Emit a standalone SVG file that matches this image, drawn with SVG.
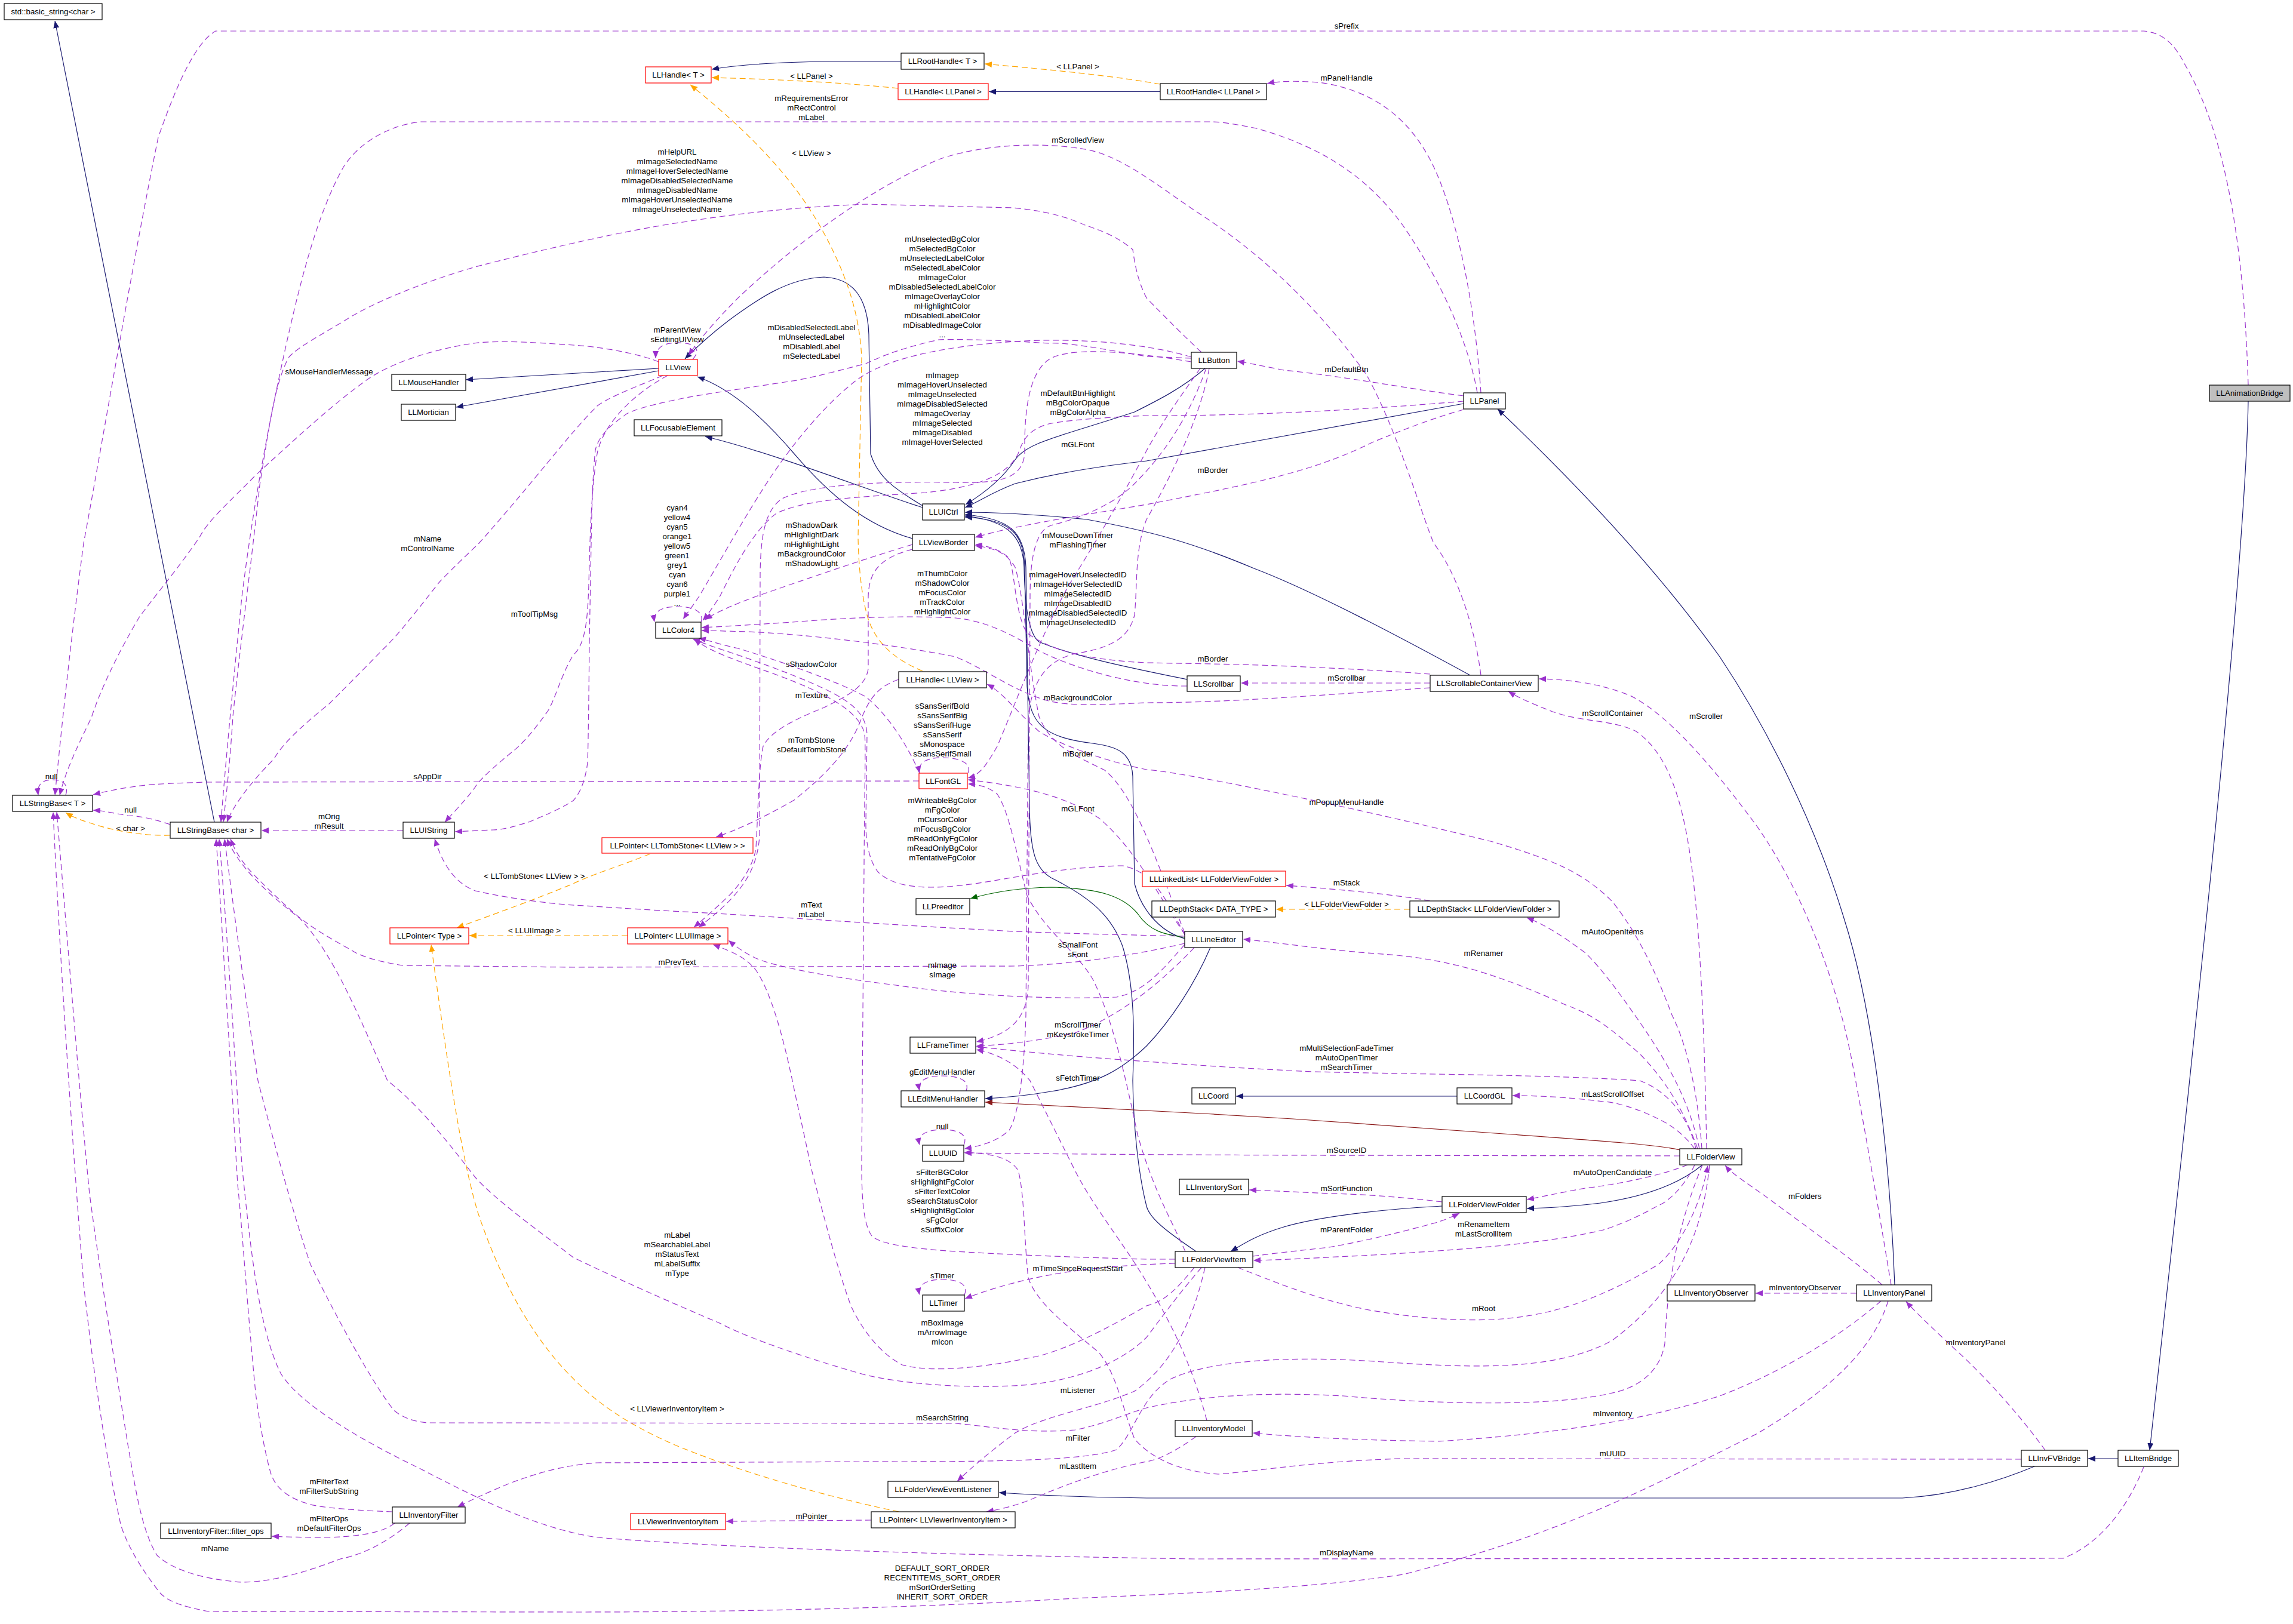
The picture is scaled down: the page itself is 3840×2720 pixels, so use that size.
<svg xmlns="http://www.w3.org/2000/svg" width="3840" height="2720" viewBox="0 0 3840 2720">
<style>
.t{font-family:"Liberation Sans",Arial,sans-serif;font-size:13.3px;text-anchor:middle;fill:#000}
.n rect{fill:#fff;stroke:#000;stroke-width:1.2}
.n.r rect{stroke:#ff0000}
.n.gr rect{fill:#bfbfbf}
.i{fill:none;stroke:#191970;stroke-width:1.2;marker-end:url(#ai)}
.g{fill:none;stroke:#006400;stroke-width:1.2;marker-end:url(#ag)}
.f{fill:none;stroke:#8b1a1a;stroke-width:1.2;marker-end:url(#af)}
.p{fill:none;stroke:#9a32cd;stroke-width:1.2;stroke-dasharray:10,6;marker-end:url(#ap)}
.o{fill:none;stroke:#ffa500;stroke-width:1.2;stroke-dasharray:10,6;marker-end:url(#ao)}
</style>
<defs>
<marker id="ai" markerUnits="userSpaceOnUse" markerWidth="12" markerHeight="10" viewBox="0 0 12 10" refX="12" refY="5" orient="auto"><path d="M0,0L12,5L0,10z" fill="#191970"/></marker>
<marker id="ag" markerUnits="userSpaceOnUse" markerWidth="12" markerHeight="10" viewBox="0 0 12 10" refX="12" refY="5" orient="auto"><path d="M0,0L12,5L0,10z" fill="#006400"/></marker>
<marker id="af" markerUnits="userSpaceOnUse" markerWidth="12" markerHeight="10" viewBox="0 0 12 10" refX="12" refY="5" orient="auto"><path d="M0,0L12,5L0,10z" fill="#8b1a1a"/></marker>
<marker id="ap" markerUnits="userSpaceOnUse" markerWidth="12" markerHeight="10" viewBox="0 0 12 10" refX="12" refY="5" orient="auto"><path d="M0,0L12,5L0,10z" fill="#9a32cd"/></marker>
<marker id="ao" markerUnits="userSpaceOnUse" markerWidth="12" markerHeight="10" viewBox="0 0 12 10" refX="12" refY="5" orient="auto"><path d="M0,0L12,5L0,10z" fill="#ffa500"/></marker>
</defs>
<rect x="0" y="0" width="3840" height="2720" fill="#fff"/>
<g id="connectors">
<path class="i" d="M359,1377 L92,35"/>
<path class="i" d="M1103,617 L780,636"/>
<path class="i" d="M1103,621 L764,682"/>
<path class="i" d="M1545,847 C1500,820 1470,800 1458,760 L1455,560 C1453,500 1430,466 1380,464 C1320,466 1270,500 1220,537 C1190,560 1165,583 1147,601"/>
<path class="i" d="M1545,850 C1450,820 1300,760 1181,731"/>
<path class="i" d="M1528,902 C1450,880 1390,830 1330,760 C1270,690 1220,650 1168,631"/>
<path class="i" d="M2018,617 C1980,650 1940,670 1900,690 C1780,730 1720,740 1700,770 C1680,800 1650,825 1617,845"/>
<path class="i" d="M2451,676 L1920,772 C1850,780 1780,790 1700,810 C1660,825 1640,840 1616,850"/>
<path class="i" d="M2462,1131 C2350,1070 2200,990 2100,952 C2000,910 1930,890 1820,870 C1720,860 1660,858 1616,858"/>
<path class="i" d="M1988,1138 C1900,1120 1800,1100 1740,1075 C1720,1060 1716,1000 1715,950 C1713,900 1690,872 1616,864"/>
<path class="i" d="M1984,1572 C1940,1560 1910,1520 1900,1480 L1897,1300 C1895,1260 1870,1250 1830,1245 C1750,1235 1725,1215 1720,1150 L1716,950 C1714,890 1690,870 1616,866"/>
<path class="i" d="M2003,2096 C1950,2060 1925,2040 1920,2020 C1905,1960 1898,1880 1897,1810 C1900,1730 1900,1650 1880,1585 C1860,1530 1820,1500 1760,1470 C1735,1455 1725,1430 1724,1350 L1718,950 C1716,890 1690,868 1616,862"/>
<path class="i" d="M2027,1587 C2000,1650 1960,1710 1920,1752 C1880,1790 1840,1815 1760,1828 C1720,1835 1690,1838 1650,1840"/>
<path class="g" d="M1984,1570 C1950,1565 1925,1560 1905,1530 C1880,1500 1840,1488 1760,1486 C1700,1487 1660,1495 1625,1505"/>
<path class="f" d="M2813,1926 C2780,1918 2700,1912 2532,1900 L2165,1874 C2000,1864 1900,1858 1650,1846"/>
<path class="i" d="M2851,1951 C2810,1985 2750,2005 2680,2015 C2620,2022 2590,2023 2557,2024"/>
<path class="i" d="M2415,2020 C2300,2026 2200,2040 2150,2055 C2100,2070 2080,2085 2061,2096"/>
<path class="i" d="M3173,2152 C3165,1950 3140,1700 3088,1538 C3040,1380 2960,1220 2880,1100 C2780,960 2650,820 2508,685"/>
<path class="i" d="M2440,1836 L2070,1836"/>
<path class="i" d="M3407,2456 C3350,2480 3270,2505 3186,2509 L1920,2509 C1800,2508 1720,2503 1673,2500"/>
<path class="i" d="M3547,2443 L3497,2443"/>
<path class="i" d="M3765,672 C3760,950 3680,1700 3600,2429"/>
<path class="i" d="M1509,103 L1390,103 C1300,104 1240,108 1192,116"/>
<path class="i" d="M1943,153.5 L1656,153.5"/>
<path class="o" d="M1943,141 C1880,130 1800,120 1649,107"/>
<path class="o" d="M1504,148 C1450,142 1350,134 1192,130"/>
<path class="o" d="M1545,1124 C1500,1105 1470,1080 1455,1040 C1445,1010 1438,960 1437,900 L1443,600 C1440,530 1420,470 1390,410 C1350,330 1290,250 1156,142"/>
<path class="o" d="M285,1399 C240,1400 190,1392 150,1378 C130,1372 118,1366 110,1361"/>
<path class="o" d="M1089,1430 C1040,1450 990,1465 960,1480 C900,1505 830,1530 765,1554"/>
<path class="o" d="M1051,1567 L786,1567"/>
<path class="o" d="M1505,2532 C1400,2510 1250,2470 1130,2420 C1050,2385 1000,2350 960,2309 C880,2230 830,2120 800,2030 C770,1930 745,1750 722,1582"/>
<path class="o" d="M2361,1523 L2137,1523"/>
<path class="p" d="M3765,645 C3758,420 3730,230 3660,110 C3640,70 3620,55 3590,52 L361,52 C330,70 300,130 265,230 C220,450 170,750 140,910 C115,1100 100,1250 92,1332"/>
<path class="p" d="M3590,2457 C3565,2520 3520,2585 3455,2610 L2000,2611 C1600,2605 1200,2592 1000,2575 C900,2560 800,2510 704,2460 C600,2410 500,2350 470,2300 C435,2230 420,2100 405,1950 C395,1800 380,1550 367,1405"/>
<path class="p" d="M3385,2444 L2350,2443 C2200,2447 2100,2465 2040,2469 C1980,2465 1930,2445 1900,2410 C1880,2360 1870,2300 1840,2265 C1780,2215 1735,2180 1722,2140 C1715,2080 1716,2000 1705,1960 C1690,1938 1660,1932 1615,1930"/>
<path class="p" d="M3425,2429 C3390,2380 3330,2310 3272,2258 C3240,2228 3210,2200 3192,2180"/>
<path class="p" d="M3152,2152 C3110,2115 3030,2058 2953,2001 C2920,1978 2900,1965 2889,1952"/>
<path class="p" d="M3109,2166 L2940,2166"/>
<path class="p" d="M3150,2179 C3080,2240 2980,2300 2880,2338 C2750,2380 2600,2402 2410,2414 C2250,2412 2150,2405 2098,2400"/>
<path class="p" d="M3162,2179 C3140,2250 3080,2320 2941,2402 C2800,2470 2650,2560 2350,2637 C2200,2660 2000,2668 1800,2677 C1500,2695 1200,2700 960,2700 L349,2699 C300,2690 280,2680 269,2669 C230,2620 210,2580 202,2553 C180,2450 160,2330 140,2150 C120,1900 100,1600 89,1360"/>
<path class="p" d="M3167,2152 C3150,2050 3125,1900 3100,1770 C3070,1620 3010,1480 2941,1382 C2880,1300 2800,1200 2730,1165 C2680,1145 2630,1138 2577,1137"/>
<path class="p" d="M686,2551 C640,2590 600,2605 570,2611 C520,2630 460,2650 404,2650 C340,2645 290,2630 263,2605 C235,2560 225,2480 214,2419 C195,2300 170,2150 150,2000 C135,1850 115,1600 95,1360"/>
<path class="p" d="M657,2532 C600,2530 530,2525 514,2518 C480,2508 460,2490 453,2466 C440,2420 430,2350 428,2332 C415,2200 405,2050 398,1984 C390,1850 375,1600 362,1405"/>
<path class="p" d="M661,2551 C640,2568 600,2573 551,2575 C500,2575 475,2574 455,2573"/>
<path class="p" d="M2863,1951 C2850,2080 2800,2170 2700,2245 C2600,2300 2450,2290 2300,2280 C2150,2270 2020,2280 1960,2310 C1910,2340 1900,2400 1870,2428 C1820,2445 1700,2448 1500,2448 L1000,2450 C930,2455 880,2475 857,2483 C820,2498 790,2512 766,2524"/>
<path class="p" d="M2851,1951 C2810,2050 2792,2150 2788,2250 C2780,2300 2740,2325 2700,2333 C2600,2357 2400,2352 2250,2338 C2100,2330 2000,2340 1920,2358 C1880,2370 1850,2385 1800,2395 C1720,2402 1650,2388 1600,2384 L716,2383 C680,2380 660,2365 655,2356 C620,2310 560,2200 520,2118 C490,2030 455,1900 432,1810 C415,1700 395,1550 376,1405"/>
<path class="p" d="M2018,2123 C2000,2200 1970,2280 1900,2330 C1830,2360 1750,2370 1700,2400 C1660,2430 1630,2455 1603,2481"/>
<path class="p" d="M2003,2406 C1970,2430 1940,2445 1920,2448 C1860,2460 1800,2480 1725,2512 C1700,2522 1675,2528 1652,2532"/>
<path class="p" d="M1459,2546 L1216,2548"/>
<path class="p" d="M2826,1951 C2780,1970 2700,1985 2655,1990 C2610,1998 2580,2005 2557,2009"/>
<path class="p" d="M2838,1951 C2820,1990 2790,2015 2777,2019 C2740,2040 2710,2052 2685,2060 C2600,2080 2500,2090 2300,2102 C2200,2107 2150,2110 2099,2111"/>
<path class="p" d="M2073,2123 C2130,2145 2200,2175 2287,2193 C2380,2210 2450,2212 2500,2210 C2600,2205 2680,2175 2777,2118 C2820,2080 2850,2010 2860,1952"/>
<path class="p" d="M2098,2104 C2150,2097 2200,2092 2226,2089 C2290,2078 2360,2060 2404,2048 C2420,2043 2432,2038 2444,2032"/>
<path class="p" d="M2415,2013 C2350,2005 2280,2000 2226,1999 C2160,1996 2120,1994 2092,1993"/>
<path class="p" d="M2813,1936 L2200,1935 C1900,1934 1700,1932 1615,1931"/>
<path class="p" d="M2838,1924 C2820,1900 2800,1885 2777,1874 C2740,1855 2700,1845 2685,1845 C2620,1837 2570,1835 2533,1835"/>
<path class="p" d="M2840,1924 C2830,1880 2800,1830 2746,1810 C2600,1800 2400,1800 2200,1795 C2050,1788 1950,1780 1880,1775 C1780,1768 1700,1760 1635,1753"/>
<path class="p" d="M2846,1924 C2830,1850 2800,1790 2746,1712 C2710,1660 2680,1620 2655,1596 C2620,1570 2590,1550 2557,1537"/>
<path class="p" d="M2843,1924 C2820,1860 2790,1810 2746,1765 C2700,1725 2670,1700 2624,1684 C2560,1655 2520,1640 2471,1625 C2400,1605 2350,1600 2288,1596 C2200,1588 2150,1580 2082,1573"/>
<path class="p" d="M2858,1924 C2855,1750 2848,1550 2830,1430 C2815,1330 2790,1260 2740,1225 C2700,1205 2650,1210 2600,1192 C2570,1180 2545,1170 2526,1158"/>
<path class="p" d="M2850,1924 C2845,1850 2830,1760 2800,1700 C2770,1620 2740,1560 2700,1510 C2650,1460 2600,1440 2500,1410 C2400,1385 2250,1350 2100,1320 C2000,1300 1940,1290 1920,1289 C1850,1275 1770,1245 1740,1225 C1700,1190 1680,1160 1653,1146"/>
<path class="p" d="M2395,1509 C2350,1500 2250,1490 2154,1483"/>
<path class="p" d="M2012,2123 C1980,2160 1950,2200 1920,2240 C1870,2290 1780,2318 1695,2321 C1600,2326 1500,2315 1450,2303 C1350,2275 1250,2240 1205,2216 C1120,2180 1030,2140 960,2106 C900,2060 830,2010 796,1972 C740,1900 700,1850 649,1810 C600,1700 560,1600 502,1538 C440,1490 400,1450 380,1405"/>
<path class="p" d="M1968,2109 L1920,2109 C1800,2106 1650,2100 1572,2094 C1500,2088 1470,2080 1460,2070 C1445,2050 1443,2000 1443,1950 L1447,1450 C1448,1300 1450,1250 1448,1230 C1440,1190 1380,1160 1300,1130 C1230,1105 1185,1090 1163,1070"/>
<path class="p" d="M1968,2116 C1900,2118 1850,2122 1805,2128 C1750,2135 1680,2150 1616,2175"/>
<path class="p" d="M2000,2123 C1970,2160 1950,2180 1920,2187 C1860,2222 1780,2265 1725,2274 C1650,2290 1560,2300 1511,2286 C1470,2265 1440,2220 1425,2187 C1400,2120 1370,2000 1358,1955 C1345,1890 1335,1850 1327,1810 C1310,1730 1290,1660 1266,1625 C1250,1605 1230,1595 1194,1582"/>
<path class="p" d="M1985,2096 C1960,2040 1930,1990 1905,1900 C1880,1780 1860,1700 1830,1640 C1800,1590 1750,1560 1720,1500 C1700,1420 1690,1360 1670,1330 C1655,1318 1640,1314 1621,1313"/>
<path class="p" d="M2021,2379 C2000,2300 1970,2230 1920,2147 C1880,2080 1830,2020 1800,1960 C1760,1880 1740,1840 1725,1810 C1700,1780 1670,1765 1635,1758"/>
<path class="p" d="M2000,1587 C1950,1640 1880,1700 1800,1730 C1730,1745 1680,1750 1635,1752"/>
<path class="p" d="M1984,1582 C1950,1620 1920,1660 1870,1670 C1750,1675 1600,1665 1500,1650 C1400,1638 1300,1620 1266,1605 C1245,1595 1232,1585 1220,1575"/>
<path class="p" d="M1984,1580 C1900,1600 1800,1615 1700,1618 L960,1620 L674,1617 C630,1610 600,1600 588,1591 C540,1565 510,1545 490,1527 C460,1500 440,1480 429,1469 C410,1450 395,1430 386,1405"/>
<path class="p" d="M1984,1568 C1900,1566 1800,1564 1700,1560 C1500,1550 1300,1535 1144,1527 C1050,1522 1000,1518 960,1516 C900,1512 830,1500 796,1492 C770,1482 745,1460 728,1405"/>
<path class="p" d="M1984,1566 C1950,1500 1930,1460 1880,1450 C1780,1452 1700,1470 1633,1480 C1560,1490 1500,1490 1470,1460 C1455,1440 1450,1410 1450,1380 L1452,1230 C1450,1190 1420,1170 1350,1140 C1290,1115 1230,1095 1200,1085 C1185,1080 1172,1075 1160,1070"/>
<path class="p" d="M1984,1565 C1940,1500 1900,1420 1840,1370 C1780,1330 1700,1315 1621,1306"/>
<path class="p" d="M1984,1563 C1940,1450 1900,1330 1850,1290 C1800,1265 1760,1250 1740,1200 C1720,1100 1715,1000 1700,950 C1685,925 1665,918 1633,914"/>
<path class="p" d="M2395,1129 C2300,1122 2150,1114 2030,1112 L1920,1110 C1820,1105 1760,1090 1720,1060 C1700,1030 1700,960 1690,935 C1675,920 1655,915 1633,912"/>
<path class="p" d="M2395,1144 L2078,1144"/>
<path class="p" d="M2395,1152 C2200,1165 2050,1177 1920,1177 C1850,1180 1800,1183 1760,1175 C1700,1160 1650,1120 1600,1100 C1500,1080 1350,1062 1250,1058 C1210,1057 1190,1056 1175,1056"/>
<path class="p" d="M2480,1131 C2470,1050 2440,960 2401,910 C2380,860 2340,720 2288,627 C2240,560 2150,450 2012,360 C1950,320 1880,260 1817,250 C1750,238 1650,240 1572,267 C1450,320 1330,410 1236,499 C1200,535 1170,570 1153,595"/>
<path class="p" d="M1988,1149 C1900,1150 1800,1120 1740,1090 C1690,1060 1650,1040 1600,1035 C1500,1030 1400,1036 1327,1042 C1250,1047 1200,1050 1175,1051"/>
<path class="p" d="M2451,686 C2400,700 2350,720 2300,740 C2200,790 2100,810 1920,845 C1800,865 1700,880 1633,900"/>
<path class="p" d="M2451,663 C2350,650 2250,630 2150,620 C2110,612 2090,608 2072,605"/>
<path class="p" d="M2480,658 C2472,540 2450,400 2410,300 C2370,200 2300,150 2208,138 C2170,135 2140,136 2122,140"/>
<path class="p" d="M2474,658 C2460,580 2420,480 2349,377 C2300,310 2230,250 2104,215 C2060,206 2040,204 2030,204 L704,204 C650,210 600,240 575,280 C530,360 500,480 470,620 C440,760 420,880 405,1000 C395,1100 380,1250 370,1377"/>
<path class="p" d="M2451,672 C2300,685 2100,697 1920,696 C1830,700 1780,705 1756,710 C1720,720 1712,740 1705,760 C1690,790 1650,815 1550,825 C1450,832 1350,835 1300,860 C1260,890 1230,950 1205,1000 C1195,1015 1185,1030 1177,1039"/>
<path class="p" d="M2012,590 C1980,560 1950,530 1920,499 C1905,470 1900,440 1897,418 C1870,395 1840,385 1817,377 C1780,360 1740,352 1695,348 L1450,342 C1350,346 1250,355 1144,372 C1050,385 900,420 796,447 C700,475 620,510 582,534 C540,560 500,580 484,598 C460,640 450,720 435,812 C420,950 400,1100 390,1200 C385,1280 378,1340 374,1377"/>
<path class="p" d="M1995,598 C1920,575 1800,565 1700,572 C1580,580 1480,600 1430,640 C1380,680 1330,740 1290,800 C1250,860 1200,950 1170,1000 C1160,1015 1150,1028 1144,1037"/>
<path class="p" d="M1995,600 L1920,597 C1850,585 1780,572 1756,575 C1650,568 1580,568 1572,569 C1500,585 1470,600 1450,609 C1400,622 1350,635 1327,638 C1250,650 1180,660 1144,667 C1080,680 1050,690 1046,696 C1010,720 1000,740 997,754 C992,800 991,860 990,910 L987,1074 C986,1180 985,1250 984,1277 C980,1310 970,1330 960,1341 C930,1360 900,1370 888,1376 C860,1385 840,1390 826,1390 L762,1393"/>
<path class="p" d="M1995,606 C1900,590 1800,580 1760,600 C1725,620 1715,680 1716,760 C1712,800 1680,810 1600,808 C1450,805 1350,815 1310,835 C1280,855 1274,900 1273,960 L1272,1400 C1268,1460 1240,1500 1170,1553"/>
<path class="p" d="M2010,617 C1980,660 1950,700 1920,755 C1880,830 1840,900 1790,980 C1740,1070 1700,1180 1670,1250 C1650,1285 1640,1298 1621,1303"/>
<path class="p" d="M2020,617 C1990,700 1950,760 1900,810 C1860,850 1800,870 1760,880 C1730,890 1725,950 1725,1000 L1722,1650 C1720,1700 1700,1730 1635,1745"/>
<path class="p" d="M2025,617 C2010,700 1960,800 1920,870 C1900,920 1905,980 1900,1030 C1890,1070 1860,1085 1800,1095 C1760,1105 1730,1130 1722,1200 L1718,1700 C1715,1800 1705,1870 1690,1893 C1670,1912 1640,1920 1615,1924"/>
<path class="p" d="M1528,912 C1450,935 1350,970 1266,999 C1220,1016 1195,1028 1181,1038"/>
<path class="p" d="M1540,1295 C1520,1250 1490,1200 1450,1167 C1400,1140 1300,1105 1236,1086 C1200,1078 1185,1072 1170,1069"/>
<path class="p" d="M1528,920 C1470,935 1455,960 1454,1000 L1454,1120 C1450,1150 1420,1165 1380,1185 C1330,1205 1290,1225 1278,1250 C1271,1280 1270,1350 1266,1420 C1262,1450 1240,1480 1223,1498 C1200,1520 1180,1538 1162,1553"/>
<path class="p" d="M1505,1138 C1470,1150 1455,1170 1440,1210 C1420,1260 1380,1300 1330,1340 C1260,1380 1220,1395 1199,1402"/>
<path class="p" d="M1160,602 C1175,585 1165,574 1135,574 C1108,574 1098,584 1098,600"/>
<path class="p" d="M1103,606 C1070,592 1000,580 960,578 C900,574 850,570 800,574 C720,585 650,610 612,638 C560,675 500,730 429,795 C380,845 350,870 334,900 C300,950 250,1010 233,1034 C200,1090 170,1150 153,1202 C130,1250 110,1290 100,1332"/>
<path class="p" d="M1110,629 C1060,650 1020,665 1000,680 C950,730 900,800 802,910 C760,950 740,970 735,976 C700,1020 670,1060 643,1086 C600,1130 570,1160 551,1179 C500,1220 470,1250 459,1271 C420,1310 390,1350 380,1377"/>
<path class="p" d="M1118,629 C1060,660 1010,710 1000,760 C990,820 988,900 986,980 C984,1040 980,1080 960,1097 C940,1130 930,1170 918,1190 C890,1230 870,1250 857,1260 C820,1290 800,1310 796,1318 C780,1340 760,1360 745,1377"/>
<path class="p" d="M110,1332 C115,1316 108,1306 88,1306 C68,1306 62,1316 64,1332"/>
<path class="p" d="M285,1381 C260,1372 230,1366 214,1366 C190,1362 175,1358 156,1357"/>
<path class="p" d="M1539,1308 L343,1310 C290,1312 260,1313 245,1315 C200,1320 180,1325 156,1331"/>
<path class="p" d="M675,1391 L438,1391"/>
<path class="p" d="M1174,1042 C1180,1024 1160,1016 1135,1016 C1108,1016 1093,1024 1096,1042"/>
<path class="p" d="M1621,1295 C1628,1277 1605,1269 1578,1269 C1552,1269 1536,1277 1540,1295"/>
<path class="p" d="M1614,1918 C1622,1900 1605,1892 1578,1892 C1552,1892 1536,1900 1540,1918"/>
<path class="p" d="M1615,2169 C1623,2151 1605,2143 1578,2143 C1552,2143 1536,2151 1540,2169"/>
<path class="p" d="M1618,1827 C1625,1809 1605,1802 1578,1802 C1552,1802 1536,1809 1540,1827"/>
<g class="t">
<text x="2255" y="48">sPrefix</text>
<text x="1359" y="132">&lt; LLPanel &gt;</text>
<text x="1805" y="116">&lt; LLPanel &gt;</text>
<text x="2255" y="135">mPanelHandle</text>
<text x="1359" y="168.6"><tspan x="1359">mRequirementsError</tspan><tspan x="1359" dy="16">mRectControl</tspan><tspan x="1359" dy="16">mLabel</tspan></text>
<text x="1359" y="261">&lt; LLView &gt;</text>
<text x="1805" y="239">mScrolledView</text>
<text x="1134" y="258.6"><tspan x="1134">mHelpURL</tspan><tspan x="1134" dy="16">mImageSelectedName</tspan><tspan x="1134" dy="16">mImageHoverSelectedName</tspan><tspan x="1134" dy="16">mImageDisabledSelectedName</tspan><tspan x="1134" dy="16">mImageDisabledName</tspan><tspan x="1134" dy="16">mImageHoverUnselectedName</tspan><tspan x="1134" dy="16">mImageUnselectedName</tspan></text>
<text x="1578" y="405"><tspan x="1578">mUnselectedBgColor</tspan><tspan x="1578" dy="16">mSelectedBgColor</tspan><tspan x="1578" dy="16">mUnselectedLabelColor</tspan><tspan x="1578" dy="16">mSelectedLabelColor</tspan><tspan x="1578" dy="16">mImageColor</tspan><tspan x="1578" dy="16">mDisabledSelectedLabelColor</tspan><tspan x="1578" dy="16">mImageOverlayColor</tspan><tspan x="1578" dy="16">mHighlightColor</tspan><tspan x="1578" dy="16">mDisabledLabelColor</tspan><tspan x="1578" dy="16">mDisabledImageColor</tspan><tspan x="1578" dy="16">...</tspan></text>
<text x="1134" y="557"><tspan x="1134">mParentView</tspan><tspan x="1134" dy="16">sEditingUIView</tspan></text>
<text x="1359" y="553"><tspan x="1359">mDisabledSelectedLabel</tspan><tspan x="1359" dy="16">mUnselectedLabel</tspan><tspan x="1359" dy="16">mDisabledLabel</tspan><tspan x="1359" dy="16">mSelectedLabel</tspan></text>
<text x="551" y="627.3">sMouseHandlerMessage</text>
<text x="1578" y="633"><tspan x="1578">mImagep</tspan><tspan x="1578" dy="16">mImageHoverUnselected</tspan><tspan x="1578" dy="16">mImageUnselected</tspan><tspan x="1578" dy="16">mImageDisabledSelected</tspan><tspan x="1578" dy="16">mImageOverlay</tspan><tspan x="1578" dy="16">mImageSelected</tspan><tspan x="1578" dy="16">mImageDisabled</tspan><tspan x="1578" dy="16">mImageHoverSelected</tspan></text>
<text x="1805" y="663.3"><tspan x="1805">mDefaultBtnHighlight</tspan><tspan x="1805" dy="16">mBgColorOpaque</tspan><tspan x="1805" dy="16">mBgColorAlpha</tspan></text>
<text x="2255" y="622.6">mDefaultBtn</text>
<text x="1805" y="749.2">mGLFont</text>
<text x="2031" y="792">mBorder</text>
<text x="1134" y="855.4"><tspan x="1134">cyan4</tspan><tspan x="1134" dy="16">yellow4</tspan><tspan x="1134" dy="16">cyan5</tspan><tspan x="1134" dy="16">orange1</tspan><tspan x="1134" dy="16">yellow5</tspan><tspan x="1134" dy="16">green1</tspan><tspan x="1134" dy="16">grey1</tspan><tspan x="1134" dy="16">cyan</tspan><tspan x="1134" dy="16">cyan6</tspan><tspan x="1134" dy="16">purple1</tspan><tspan x="1134" dy="16">...</tspan></text>
<text x="1359" y="884"><tspan x="1359">mShadowDark</tspan><tspan x="1359" dy="16">mHighlightDark</tspan><tspan x="1359" dy="16">mHighlightLight</tspan><tspan x="1359" dy="16">mBackgroundColor</tspan><tspan x="1359" dy="16">mShadowLight</tspan></text>
<text x="1805" y="901.3"><tspan x="1805">mMouseDownTimer</tspan><tspan x="1805" dy="16">mFlashingTimer</tspan></text>
<text x="716" y="907"><tspan x="716">mName</tspan><tspan x="716" dy="16">mControlName</tspan></text>
<text x="1578" y="965"><tspan x="1578">mThumbColor</tspan><tspan x="1578" dy="16">mShadowColor</tspan><tspan x="1578" dy="16">mFocusColor</tspan><tspan x="1578" dy="16">mTrackColor</tspan><tspan x="1578" dy="16">mHighlightColor</tspan></text>
<text x="1805" y="966.7"><tspan x="1805">mImageHoverUnselectedID</tspan><tspan x="1805" dy="16">mImageHoverSelectedID</tspan><tspan x="1805" dy="16">mImageSelectedID</tspan><tspan x="1805" dy="16">mImageDisabledID</tspan><tspan x="1805" dy="16">mImageDisabledSelectedID</tspan><tspan x="1805" dy="16">mImageUnselectedID</tspan></text>
<text x="895" y="1033.4">mToolTipMsg</text>
<text x="2031" y="1107.6">mBorder</text>
<text x="1359" y="1117">sShadowColor</text>
<text x="2255" y="1140.2">mScrollbar</text>
<text x="1359" y="1169.2">mTexture</text>
<text x="1805" y="1172.6">mBackgroundColor</text>
<text x="1578" y="1187.2"><tspan x="1578">sSansSerifBold</tspan><tspan x="1578" dy="16">sSansSerifBig</tspan><tspan x="1578" dy="16">sSansSerifHuge</tspan><tspan x="1578" dy="16">sSansSerif</tspan><tspan x="1578" dy="16">sMonospace</tspan><tspan x="1578" dy="16">sSansSerifSmall</tspan></text>
<text x="2700.6" y="1199.4">mScrollContainer</text>
<text x="2857" y="1204.1">mScroller</text>
<text x="1359" y="1244.1"><tspan x="1359">mTombStone</tspan><tspan x="1359" dy="16">sDefaultTombStone</tspan></text>
<text x="1805" y="1266.6">mBorder</text>
<text x="86" y="1304.6">null</text>
<text x="716" y="1305">sAppDir</text>
<text x="2255" y="1348">mPopupMenuHandle</text>
<text x="1578" y="1345.1"><tspan x="1578">mWriteableBgColor</tspan><tspan x="1578" dy="16">mFgColor</tspan><tspan x="1578" dy="16">mCursorColor</tspan><tspan x="1578" dy="16">mFocusBgColor</tspan><tspan x="1578" dy="16">mReadOnlyFgColor</tspan><tspan x="1578" dy="16">mReadOnlyBgColor</tspan><tspan x="1578" dy="16">mTentativeFgColor</tspan></text>
<text x="1805" y="1359">mGLFont</text>
<text x="218.6" y="1361.3">null</text>
<text x="551" y="1371.8"><tspan x="551">mOrig</tspan><tspan x="551" dy="16">mResult</tspan></text>
<text x="218.6" y="1391.5">&lt; char &gt;</text>
<text x="895" y="1472.2">&lt; LLTombStone&lt; LLView &gt; &gt;</text>
<text x="2255" y="1483.2">mStack</text>
<text x="1359" y="1519.8"><tspan x="1359">mText</tspan><tspan x="1359" dy="16">mLabel</tspan></text>
<text x="2255" y="1519.2">&lt; LLFolderViewFolder &gt;</text>
<text x="895" y="1563.3">&lt; LLUIImage &gt;</text>
<text x="2700.6" y="1564.6">mAutoOpenItems</text>
<text x="1805" y="1587.1"><tspan x="1805">sSmallFont</tspan><tspan x="1805" dy="16">sFont</tspan></text>
<text x="2484.5" y="1601">mRenamer</text>
<text x="1134" y="1616.1">mPrevText</text>
<text x="1578" y="1621.3"><tspan x="1578">mImage</tspan><tspan x="1578" dy="16">sImage</tspan></text>
<text x="1805" y="1720.6"><tspan x="1805">mScrollTimer</tspan><tspan x="1805" dy="16">mKeystrokeTimer</tspan></text>
<text x="2255" y="1760"><tspan x="2255">mMultiSelectionFadeTimer</tspan><tspan x="2255" dy="16">mAutoOpenTimer</tspan><tspan x="2255" dy="16">mSearchTimer</tspan></text>
<text x="1578" y="1800.1">gEditMenuHandler</text>
<text x="1805" y="1810">sFetchTimer</text>
<text x="2700.6" y="1837.2">mLastScrollOffset</text>
<text x="1578" y="1891.2">null</text>
<text x="2255" y="1931.3">mSourceID</text>
<text x="1578" y="1967.8"><tspan x="1578">sFilterBGColor</tspan><tspan x="1578" dy="16">sHighlightFgColor</tspan><tspan x="1578" dy="16">sFilterTextColor</tspan><tspan x="1578" dy="16">sSearchStatusColor</tspan><tspan x="1578" dy="16">sHighlightBgColor</tspan><tspan x="1578" dy="16">sFgColor</tspan><tspan x="1578" dy="16">sSuffixColor</tspan></text>
<text x="2700.6" y="1967.8">mAutoOpenCandidate</text>
<text x="2255" y="1995.1">mSortFunction</text>
<text x="3022.7" y="2007.9">mFolders</text>
<text x="2484.5" y="2054.9"><tspan x="2484.5">mRenameItem</tspan><tspan x="2484.5" dy="16">mLastScrollItem</tspan></text>
<text x="2255" y="2064.2">mParentFolder</text>
<text x="1134" y="2072.9"><tspan x="1134">mLabel</tspan><tspan x="1134" dy="16">mSearchableLabel</tspan><tspan x="1134" dy="16">mStatusText</tspan><tspan x="1134" dy="16">mLabelSuffix</tspan><tspan x="1134" dy="16">mType</tspan></text>
<text x="1805" y="2129.2">mTimeSinceRequestStart</text>
<text x="1578" y="2141.3">sTimer</text>
<text x="3022.7" y="2161.1">mInventoryObserver</text>
<text x="2484.5" y="2195.9">mRoot</text>
<text x="1578" y="2219.7"><tspan x="1578">mBoxImage</tspan><tspan x="1578" dy="16">mArrowImage</tspan><tspan x="1578" dy="16">mIcon</tspan></text>
<text x="3308.6" y="2252.8">mInventoryPanel</text>
<text x="1805" y="2332.9">mListener</text>
<text x="1134" y="2363.6">&lt; LLViewerInventoryItem &gt;</text>
<text x="2700.6" y="2372.3">mInventory</text>
<text x="1578" y="2378.7">mSearchString</text>
<text x="1805" y="2412.9">mFilter</text>
<text x="2700.6" y="2439.1">mUUID</text>
<text x="1805" y="2460">mLastItem</text>
<text x="551" y="2485.5"><tspan x="551">mFilterText</tspan><tspan x="551" dy="16">mFilterSubString</tspan></text>
<text x="1359" y="2544.1">mPointer</text>
<text x="551" y="2548.2"><tspan x="551">mFilterOps</tspan><tspan x="551" dy="16">mDefaultFilterOps</tspan></text>
<text x="360" y="2597.6">mName</text>
<text x="2255" y="2605">mDisplayName</text>
<text x="1578" y="2630.6"><tspan x="1578">DEFAULT_SORT_ORDER</tspan><tspan x="1578" dy="16">RECENTITEMS_SORT_ORDER</tspan><tspan x="1578" dy="16">mSortOrderSetting</tspan><tspan x="1578" dy="16">INHERIT_SORT_ORDER</tspan></text>
</g>
</g>
<g id="nodes" class="t">
<g id="node_basic_string" class="n"><rect x="7" y="6" width="164" height="27"/><text x="89" y="24.1">std::basic_string&lt;char &gt;</text></g>
<g id="node_LLHandle_T" class="n r"><rect x="1081" y="112" width="110" height="27"/><text x="1136" y="130.1">LLHandle&lt; T &gt;</text></g>
<g id="node_LLRootHandle_T" class="n"><rect x="1509" y="89" width="139" height="27"/><text x="1578.5" y="107.1">LLRootHandle&lt; T &gt;</text></g>
<g id="node_LLHandle_LLPanel" class="n r"><rect x="1504" y="140" width="151" height="27"/><text x="1579.5" y="158.1">LLHandle&lt; LLPanel &gt;</text></g>
<g id="node_LLRootHandle_LLPanel" class="n"><rect x="1943" y="140" width="178" height="27"/><text x="2032" y="158.1">LLRootHandle&lt; LLPanel &gt;</text></g>
<g id="node_LLAnimationBridge" class="n gr"><rect x="3700" y="645" width="135" height="27"/><text x="3767.5" y="663.1">LLAnimationBridge</text></g>
<g id="node_LLMouseHandler" class="n"><rect x="656" y="627" width="124" height="27"/><text x="718" y="645.1">LLMouseHandler</text></g>
<g id="node_LLMortician" class="n"><rect x="672" y="677" width="91" height="27"/><text x="717.5" y="695.1">LLMortician</text></g>
<g id="node_LLView" class="n r"><rect x="1103" y="602" width="65" height="27"/><text x="1135.5" y="620.1">LLView</text></g>
<g id="node_LLButton" class="n"><rect x="1995" y="590" width="76" height="27"/><text x="2033" y="608.1">LLButton</text></g>
<g id="node_LLPanel" class="n"><rect x="2451" y="658" width="70" height="27"/><text x="2486" y="676.1">LLPanel</text></g>
<g id="node_LLFocusableElement" class="n"><rect x="1062" y="703" width="147" height="27"/><text x="1135.5" y="721.1">LLFocusableElement</text></g>
<g id="node_LLUICtrl" class="n"><rect x="1545" y="844" width="70" height="27"/><text x="1580" y="862.1">LLUICtrl</text></g>
<g id="node_LLViewBorder" class="n"><rect x="1528" y="895" width="104" height="27"/><text x="1580" y="913.1">LLViewBorder</text></g>
<g id="node_LLColor4" class="n"><rect x="1098" y="1042" width="76" height="27"/><text x="1136" y="1060.1">LLColor4</text></g>
<g id="node_LLHandle_LLView" class="n"><rect x="1505" y="1125" width="147" height="27"/><text x="1578.5" y="1143.1">LLHandle&lt; LLView &gt;</text></g>
<g id="node_LLScrollbar" class="n"><rect x="1988" y="1132" width="89" height="26"/><text x="2032.5" y="1149.6">LLScrollbar</text></g>
<g id="node_LLScrollableContainerView" class="n"><rect x="2395" y="1131" width="181" height="27"/><text x="2485.5" y="1149.1">LLScrollableContainerView</text></g>
<g id="node_LLFontGL" class="n r"><rect x="1539" y="1295" width="81" height="26"/><text x="1579.5" y="1312.6">LLFontGL</text></g>
<g id="node_LLStringBase_T" class="n"><rect x="21" y="1332" width="134" height="27"/><text x="88" y="1350.1">LLStringBase&lt; T &gt;</text></g>
<g id="node_LLStringBase_char" class="n"><rect x="285" y="1377" width="152" height="27"/><text x="361" y="1395.1">LLStringBase&lt; char &gt;</text></g>
<g id="node_LLUIString" class="n"><rect x="675" y="1377" width="86" height="27"/><text x="718" y="1395.1">LLUIString</text></g>
<g id="node_LLPointer_LLTombStone" class="n r"><rect x="1008" y="1403" width="253" height="26"/><text x="1134.5" y="1420.6">LLPointer&lt; LLTombStone&lt; LLView &gt; &gt;</text></g>
<g id="node_LLLinkedList" class="n r"><rect x="1913" y="1459" width="240" height="26"/><text x="2033" y="1476.6">LLLinkedList&lt; LLFolderViewFolder &gt;</text></g>
<g id="node_LLDepthStack_DATA_TYPE" class="n"><rect x="1929" y="1509" width="207" height="27"/><text x="2032.5" y="1527.1">LLDepthStack&lt; DATA_TYPE &gt;</text></g>
<g id="node_LLDepthStack_LLFolderViewFolder" class="n"><rect x="2361" y="1509" width="250" height="27"/><text x="2486" y="1527.1">LLDepthStack&lt; LLFolderViewFolder &gt;</text></g>
<g id="node_LLPreeditor" class="n"><rect x="1534" y="1505" width="90" height="27"/><text x="1579" y="1523.1">LLPreeditor</text></g>
<g id="node_LLPointer_Type" class="n r"><rect x="653" y="1554" width="132" height="27"/><text x="719" y="1572.1">LLPointer&lt; Type &gt;</text></g>
<g id="node_LLPointer_LLUIImage" class="n r"><rect x="1051" y="1554" width="168" height="27"/><text x="1135" y="1572.1">LLPointer&lt; LLUIImage &gt;</text></g>
<g id="node_LLLineEditor" class="n"><rect x="1984" y="1560" width="97" height="27"/><text x="2032.5" y="1578.1">LLLineEditor</text></g>
<g id="node_LLFrameTimer" class="n"><rect x="1524" y="1737" width="110" height="27"/><text x="1579" y="1755.1">LLFrameTimer</text></g>
<g id="node_LLEditMenuHandler" class="n"><rect x="1509" y="1827" width="140" height="27"/><text x="1579" y="1845.1">LLEditMenuHandler</text></g>
<g id="node_LLCoord" class="n"><rect x="1996" y="1822" width="73" height="27"/><text x="2032.5" y="1840.1">LLCoord</text></g>
<g id="node_LLCoordGL" class="n"><rect x="2440" y="1822" width="92" height="27"/><text x="2486" y="1840.1">LLCoordGL</text></g>
<g id="node_LLUUID" class="n"><rect x="1545" y="1918" width="69" height="27"/><text x="1579.5" y="1936.1">LLUUID</text></g>
<g id="node_LLFolderView" class="n"><rect x="2813" y="1924" width="104" height="27"/><text x="2865" y="1942.1">LLFolderView</text></g>
<g id="node_LLInventorySort" class="n"><rect x="1975" y="1975" width="116" height="26"/><text x="2033" y="1992.6">LLInventorySort</text></g>
<g id="node_LLFolderViewFolder" class="n"><rect x="2415" y="2004" width="141" height="27"/><text x="2485.5" y="2022.1">LLFolderViewFolder</text></g>
<g id="node_LLFolderViewItem" class="n"><rect x="1968" y="2096" width="130" height="27"/><text x="2033" y="2114.1">LLFolderViewItem</text></g>
<g id="node_LLTimer" class="n"><rect x="1545" y="2169" width="70" height="27"/><text x="1580" y="2187.1">LLTimer</text></g>
<g id="node_LLInventoryObserver" class="n"><rect x="2792" y="2152" width="147" height="27"/><text x="2865.5" y="2170.1">LLInventoryObserver</text></g>
<g id="node_LLInventoryPanel" class="n"><rect x="3109" y="2152" width="126" height="27"/><text x="3172" y="2170.1">LLInventoryPanel</text></g>
<g id="node_LLInventoryModel" class="n"><rect x="1968" y="2379" width="129" height="27"/><text x="2032.5" y="2397.1">LLInventoryModel</text></g>
<g id="node_LLInvFVBridge" class="n"><rect x="3385" y="2429" width="111" height="27"/><text x="3440.5" y="2447.1">LLInvFVBridge</text></g>
<g id="node_LLItemBridge" class="n"><rect x="3547" y="2429" width="101" height="27"/><text x="3597.5" y="2447.1">LLItemBridge</text></g>
<g id="node_LLFolderViewEventListener" class="n"><rect x="1487" y="2481" width="185" height="27"/><text x="1579.5" y="2499.1">LLFolderViewEventListener</text></g>
<g id="node_LLInventoryFilter" class="n"><rect x="657" y="2524" width="122" height="27"/><text x="718" y="2542.1">LLInventoryFilter</text></g>
<g id="node_filter_ops" class="n"><rect x="269" y="2551" width="185" height="26"/><text x="361.5" y="2568.6">LLInventoryFilter::filter_ops</text></g>
<g id="node_LLViewerInventoryItem" class="n r"><rect x="1056" y="2535" width="159" height="27"/><text x="1135.5" y="2553.1">LLViewerInventoryItem</text></g>
<g id="node_LLPointer_LLViewerInventoryItem" class="n"><rect x="1459" y="2532" width="241" height="27"/><text x="1579.5" y="2550.1">LLPointer&lt; LLViewerInventoryItem &gt;</text></g>
</g>
</svg>
